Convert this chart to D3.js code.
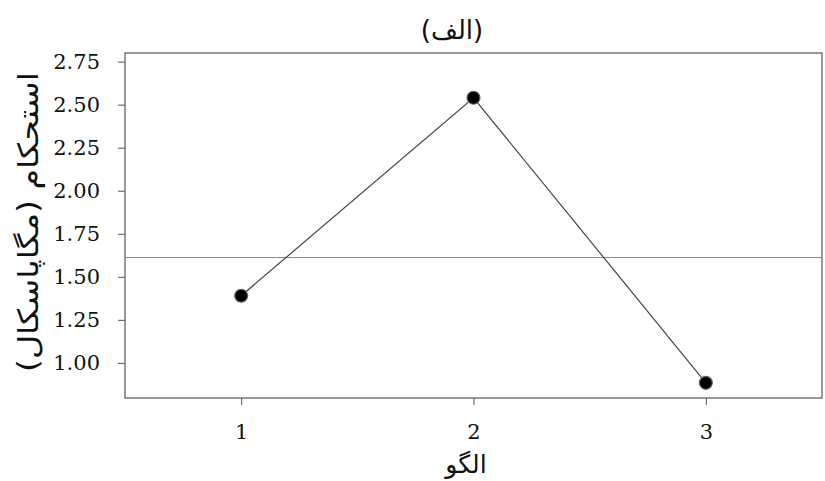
<!DOCTYPE html>
<html>
<head>
<meta charset="utf-8">
<script src="https://cdn.jsdelivr.net/npm/d3@7"></script>
<style>
  body { margin: 0; background: #fff; }
  .tick text { font-family: "DejaVu Serif", serif; font-size: 21px; fill: #111; }
  .fa { font-family: "DejaVu Sans", sans-serif; fill: #111; }
</style>
</head>
<body>
<div id="chart"></div>
<script>
// data
var patterns = [1, 2, 3];
var strength = [1.39, 2.54, 0.884];
var meanLine = 1.612;
var yTicks = [1.00, 1.25, 1.50, 1.75, 2.00, 2.25, 2.50, 2.75];

var width = 825, height = 481;
var margin = { top: 53, right: 3, bottom: 83, left: 125 };

var svg = d3.select("#chart").append("svg")
    .attr("width", width)
    .attr("height", height);

var x = d3.scaleLinear().domain([0.5, 3.5]).range([margin.left, width - margin.right]);
var y = d3.scaleLinear().domain([0.796, 2.80]).range([height - margin.bottom, margin.top]);

// plot frame
svg.append("rect")
    .attr("x", margin.left)
    .attr("y", margin.top)
    .attr("width", width - margin.left - margin.right)
    .attr("height", height - margin.top - margin.bottom)
    .attr("fill", "none")
    .attr("stroke", "#555")
    .attr("stroke-width", 1.2);

// axes
var yAxis = svg.append("g")
    .attr("transform", "translate(" + margin.left + ",0)")
    .call(d3.axisLeft(y).tickValues(yTicks).tickFormat(d3.format(".2f")).tickSize(7).tickPadding(18));
yAxis.select(".domain").remove();
yAxis.selectAll(".tick line").attr("stroke", "#555");

var xAxis = svg.append("g")
    .attr("transform", "translate(0," + (height - margin.bottom) + ")")
    .call(d3.axisBottom(x).tickValues(patterns).tickFormat(d3.format("d")).tickSize(7).tickPadding(19));
xAxis.select(".domain").remove();
xAxis.selectAll(".tick line").attr("stroke", "#555");

// mean line
svg.append("line")
    .attr("x1", margin.left)
    .attr("x2", width - margin.right)
    .attr("y1", y(meanLine))
    .attr("y2", y(meanLine))
    .attr("stroke", "#888")
    .attr("stroke-width", 1.2);

// series line
var pts = patterns.map(function(p, i) { return [p, strength[i]]; });
svg.append("path")
    .datum(pts)
    .attr("fill", "none")
    .attr("stroke", "#444")
    .attr("stroke-width", 1.2)
    .attr("d", d3.line()
        .x(function(d) { return x(d[0]); })
        .y(function(d) { return y(d[1]); }));

svg.selectAll("circle.pt")
    .data(pts)
    .join("circle")
    .attr("class", "pt")
    .attr("cx", function(d) { return x(d[0]); })
    .attr("cy", function(d) { return y(d[1]); })
    .attr("r", 6.5)
    .attr("fill", "#000")
    .attr("stroke", "#666")
    .attr("stroke-width", 1.2);

// titles
svg.append("text")
    .attr("class", "fa")
    .attr("x", 452)
    .attr("y", 39)
    .attr("text-anchor", "middle")
    .attr("font-size", 26)
    .text("(الف)");

svg.append("text")
    .attr("class", "fa")
    .attr("x", 466)
    .attr("y", 473)
    .attr("text-anchor", "middle")
    .attr("font-size", 25)
    .text("الگو");

svg.append("text")
    .attr("class", "fa")
    .attr("transform", "translate(38,222) rotate(-90)")
    .attr("text-anchor", "middle")
    .attr("font-size", 28)
    .attr("textLength", 300)
    .attr("lengthAdjust", "spacingAndGlyphs")
    .text("استحکام (مگاپاسکال)");
</script>
</body>
</html>
